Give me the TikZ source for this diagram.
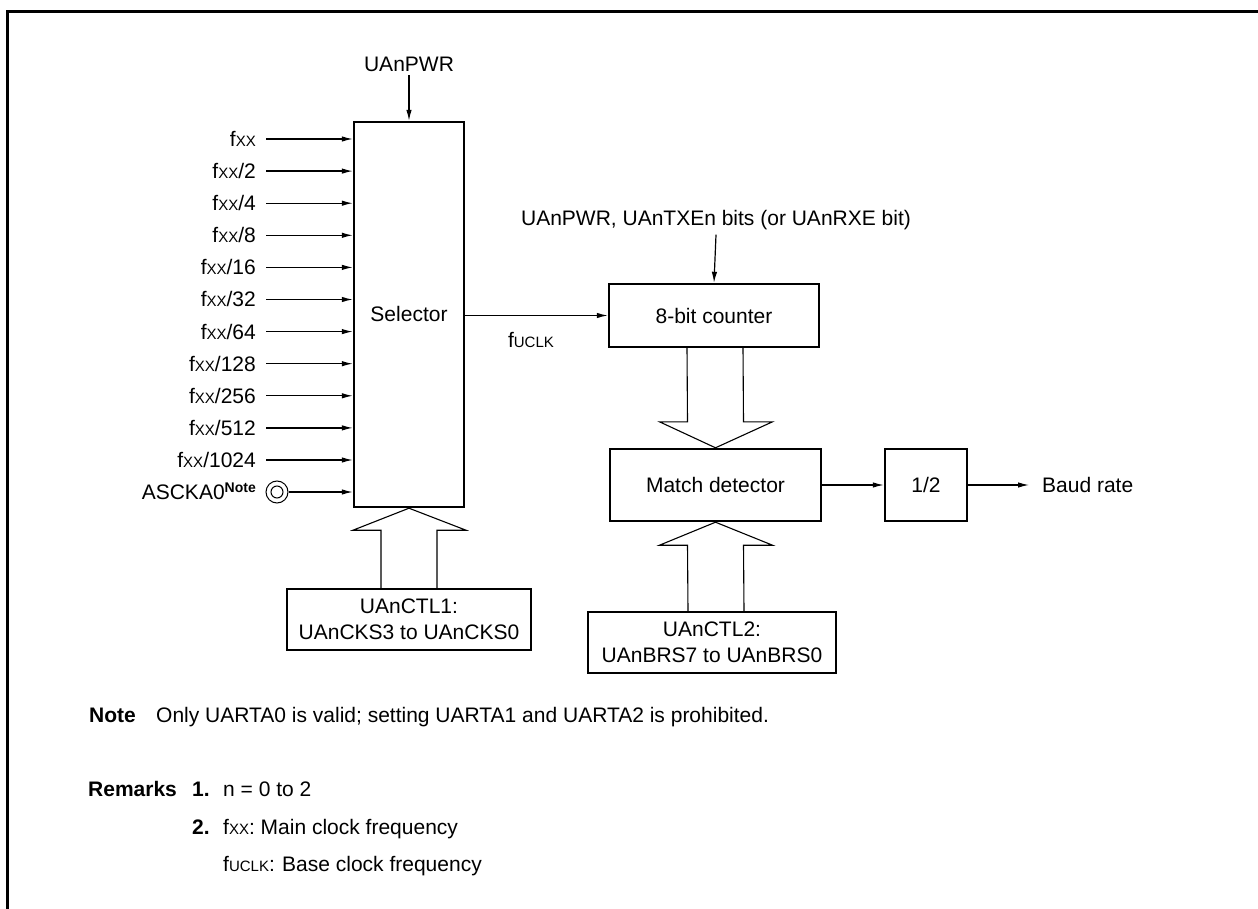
\documentclass[tikz,border=0pt]{standalone}
\usepackage{fontspec}
\setmainfont{Liberation Sans}
\usetikzlibrary{arrows.meta,calc}
\newcommand\smc[1]{{\fontsize{15}{15}\selectfont #1}}
\newcommand\fxx{f\smc{XX}}
\newcommand\fuclk{f\smc{UCLK}}
\begin{document}
\begin{tikzpicture}[x=1pt,y=-1pt,
  every node/.style={font=\fontsize{21}{26}\selectfont, inner sep=0pt},
  blk/.style={draw, line width=2.4pt, align=center},
  sig/.style={line width=1.2pt, -{Latex[length=11pt,width=5.5pt]}},
  hollow/.style={line width=1.1pt, line join=miter},
  lbl/.style={anchor=east, text height=15pt, text depth=0pt},
  frame/.style={line width=3pt}]
\useasboundingbox (0,0) rectangle (1258,909);
% frame
\draw[frame] (7.5,909) -- (7.5,11.5) -- (1258,11.5);
% selector
\node[blk, minimum width=110, minimum height=385] (sel) at (409,314.5) {};
\node (seltxt) at (409,314) {Selector};
\node[text height=15pt, text depth=0pt] (pwr) at (409,64) {UAnPWR};
\draw[sig] ($(pwr.south)+(0,3.5)$) -- (sel.north);
% inputs
\foreach \t [count=\i from 0] in {\fxx, \fxx/2, \fxx/4, \fxx/8, \fxx/16, \fxx/32, \fxx/64, \fxx/128, \fxx/256, \fxx/512, \fxx/1024} {
  \node[lbl] (in\i) at (256,{139+32.1*\i}) {\t};
  \draw[sig] ($(in\i.east)+(10,0)$) -- (in\i.east -| sel.west);
}
\node[lbl] (asclbl) at (256,492) {ASCKA0\raisebox{7pt}{\fontsize{14}{14}\selectfont\bfseries Note}};
\node[draw, circle, minimum size=22, line width=1pt] (asc) at (277,492) {};
\draw[line width=1pt] (asc.center) circle (6);
\draw[sig] (asc.east) -- (asc.east -| sel.west);
% control 1
\node[blk, minimum width=244, minimum height=61] (ctl1) at (409,619.5) {UAnCTL1:\\UAnCKS3 to UAnCKS0};
\draw[hollow] ($(ctl1.north)+(-28,0)$) -- ($(sel.south)+(-28,22)$) -- ($(sel.south)+(-56,22)$) -- (sel.south) -- ($(sel.south)+(57,22)$) -- ($(sel.south)+(28,22)$) -- ($(ctl1.north)+(28,0)$);
% counter
\node[blk, minimum width=210, minimum height=63] (cnt) at (714,315.5) {8-bit counter};
\node[text height=15pt, text depth=4pt] (en) at (716,220) {UAnPWR, UAnTXEn bits (or UAnRXE bit)};
\draw[sig] ($(en.south)+(0,5)$) -- (cnt.north);
\draw[sig] (cnt.west -| sel.east) -- (cnt.west);
\node (fu) at (531,340) {\fuclk};
% match detector
\node[blk, minimum width=211, minimum height=72] (mat) at (715.5,485) {Match detector};
\draw[hollow] ($(cnt.south)+(-27,0)$) -- ($(mat.north)+(-28,-26)$) -- ($(mat.north)+(-56,-26)$) -- (mat.north) -- ($(mat.north)+(57,-26)$) -- ($(mat.north)+(28,-26)$) -- ($(cnt.south)+(29,0)$);
\node[blk, minimum width=82, minimum height=72] (half) at (926,485) {1/2};
\draw[sig] (mat.east) -- (half.west);
\node[anchor=west] (baud) at (1042,485) {Baud rate};
\draw[sig] (half.east) -- ($(baud.west)+(-13,0)$);
% control 2
\node[blk, minimum width=248, minimum height=61] (ctl2) at (712,642.5) {UAnCTL2:\\UAnBRS7 to UAnBRS0};
\draw[hollow] ($(ctl2.north)+(-24,0)$) -- ($(mat.south)+(-28,23)$) -- ($(mat.south)+(-56,23)$) -- (mat.south) -- ($(mat.south)+(57,23)$) -- ($(mat.south)+(28,23)$) -- ($(ctl2.north)+(32,0)$);
% notes
\node[anchor=base west] (note) at (89,722.5) {\bfseries Note};
\node[anchor=base west] (notet) at (156,722.5) {Only UARTA0 is valid; setting UARTA1 and UARTA2 is prohibited.};
\node[anchor=base west] (rem) at (88,796.5) {\bfseries Remarks};
\node[anchor=base west] (r1) at (192,796.5) {\bfseries 1.};
\node[anchor=base west] (r1t) at (223,796.5) {n = 0 to 2};
\node[anchor=base west] (r2) at (192,834.5) {\bfseries 2.};
\node[anchor=base west] (r2t) at (223,834.5) {\fxx: Main clock frequency};
\node[anchor=base west] (r3) at (223,871.5) {\fuclk:};
\node[anchor=base west] (r3t) at (282,871.5) {Base clock frequency};
\end{tikzpicture}
\end{document}
